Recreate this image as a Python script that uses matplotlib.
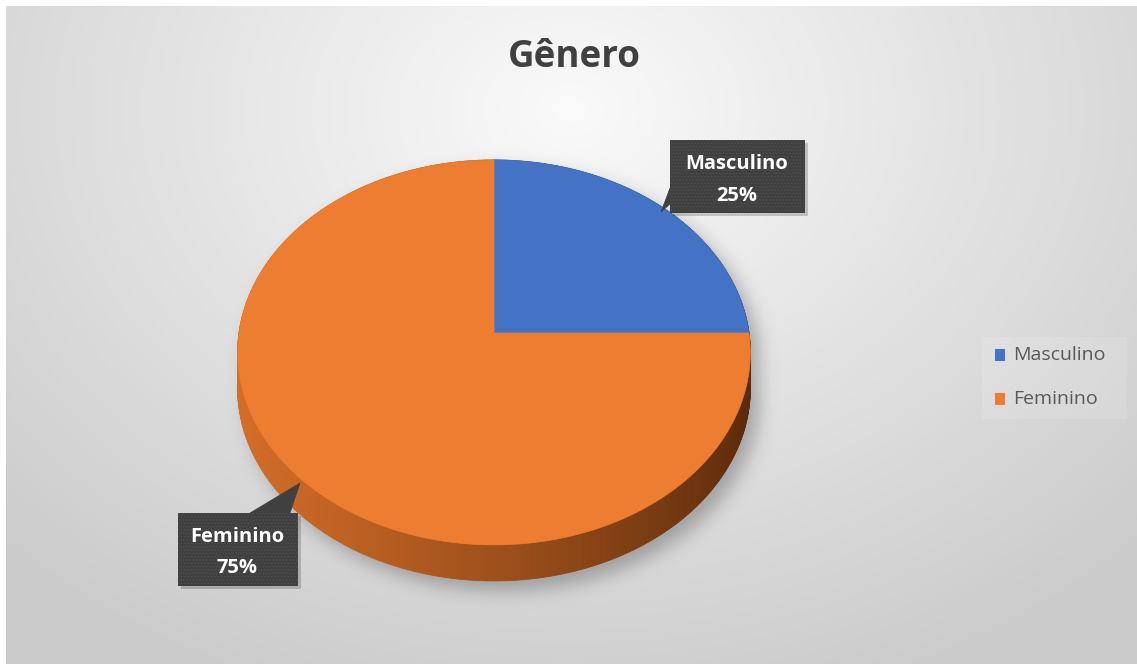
import numpy as np
import matplotlib
matplotlib.use('Agg')
import matplotlib.pyplot as plt
from matplotlib.patches import Polygon, Rectangle
from matplotlib.path import Path

# ---- data ----
categories = ['Masculino', 'Feminino']
values = [25, 75]
colors = ['#4472C4', '#ED7D31']
title = 'Gênero'

plt.rcParams['hatch.linewidth'] = 0.6
FONT = ['Open Sans', 'DejaVu Sans']

W, H = 1137, 664
fig = plt.figure(figsize=(W / 100, H / 100), dpi=100)
ax = fig.add_axes([0, 0, 1, 1])
ax.set_xlim(0, W)
ax.set_ylim(H, 0)
ax.axis('off')

# ---- background radial gradient ----
yy, xx = np.mgrid[0:H, 0:W] + 0.5
r = np.sqrt(((xx - 570) / 720) ** 2 + ((yy - 110) / 560) ** 2)
g = (250 - 42 * np.clip(r, 0, 1.1)) / 255
bg = np.dstack([g, g, g])
bg[:6, :, :] = 1
bg[:, :6, :] = 1
ax.imshow(bg, extent=(0, W, H, 0), zorder=0, interpolation='bilinear')

# ---- 3D pie geometry (perspective projection of a disk) ----
cx, cy, A, B, k, D = 494, 333, 255, 190.5, 0.101, 36


def proj(t):
    X, Z = np.cos(t), np.sin(t)
    w = 1 / (1 + k * Z)
    return cx + A * X * w, cy - B * Z * w


fr = np.array(values, float) / np.sum(values)
bounds = np.pi / 2 - 2 * np.pi * np.concatenate([[0], np.cumsum(fr)])

# soft shadow
tt = np.linspace(0, 2 * np.pi, 400)
px, py = proj(tt)
mask = np.zeros((H, W))
pts = np.column_stack([xx.ravel() - 9, yy.ravel() - 10])
for off in np.linspace(0, D, 7):
    pth = Path(np.column_stack([px, py + off]))
    mask = np.maximum(mask, pth.contains_points(pts).reshape(H, W).astype(float))
sig = 9
kx = np.arange(-3 * sig, 3 * sig + 1)
kern = np.exp(-kx ** 2 / (2 * sig ** 2))
kern /= kern.sum()
mask = np.apply_along_axis(lambda v: np.convolve(v, kern, mode='same'), 1, mask)
mask = np.apply_along_axis(lambda v: np.convolve(v, kern, mode='same'), 0, mask)
sh = np.zeros((H, W, 4))
sh[..., :3] = 0.35
sh[..., 3] = 0.45 * mask
ax.imshow(sh, extent=(0, W, H, 0), zorder=1, interpolation='bilinear')


def slice_index(t):
    a = (np.pi / 2 - t) % (2 * np.pi)
    c = np.cumsum(fr) * 2 * np.pi
    return int(np.searchsorted(c, a))


side_light = {0: ('#3a62a8', '#1f3766'), 1: ('#d46d28', '#5a2a0a')}


def mix(c1, c2, s):
    a = np.array(matplotlib.colors.to_rgb(c1))
    b = np.array(matplotlib.colors.to_rgb(c2))
    return tuple(a * (1 - s) + b * s)


# side wall
n = 720
ts = np.linspace(0, 2 * np.pi, n + 1)
quads = []
for i in range(n):
    t0, t1 = ts[i], ts[i + 1]
    tm = 0.5 * (t0 + t1)
    x0, y0 = proj(t0)
    x1, y1 = proj(t1)
    idx = min(slice_index(tm), len(values) - 1)
    s = (np.cos(tm) + 1) / 2
    col = mix(*side_light[idx], s ** 1.2)
    quads.append((np.sin(tm), [(x0, y0), (x1, y1), (x1, y1 + D), (x0, y0 + D)], col))
quads.sort(key=lambda q: -q[0])
for _, poly, col in quads:
    ax.add_patch(Polygon(poly, closed=True, facecolor=col, edgecolor=col, lw=0.6, zorder=2))

# top faces
for i in range(len(values)):
    ang = np.linspace(bounds[i], bounds[i + 1], 300)
    ex, ey = proj(ang)
    poly = np.column_stack([np.concatenate([[cx], ex]), np.concatenate([[cy], ey])])
    ax.add_patch(Polygon(poly, closed=True, facecolor=colors[i], edgecolor=colors[i], lw=0.5, zorder=3))

# ---- title ----
ax.text(574, 57, title, ha='center', va='center', fontsize=26.5, fontweight='bold',
        color='#404040', family=FONT, zorder=5)


# ---- data labels ----
def label_box(x0, y0, x1, y1, ptr, lines, cxl, ys):
    ax.add_patch(Rectangle((x0 + 3, y0 + 3), x1 - x0, y1 - y0, facecolor='k', alpha=0.18, lw=0, zorder=5))
    ax.add_patch(Polygon(ptr, closed=True, facecolor='#404040', edgecolor='#404040', lw=0.5, zorder=5))
    ax.add_patch(Rectangle((x0, y0), x1 - x0, y1 - y0, facecolor='#404040', edgecolor='#4f4f4f',
                           hatch='.....', lw=0, zorder=6))
    for ln, yv in zip(lines, ys):
        ax.text(cxl, yv, ln, ha='center', va='center', fontsize=14.5, fontweight='bold',
                color='white', family=FONT, zorder=7)


pct = [f'{round(v * 100)}%' for v in fr]
label_box(670, 140, 805, 213, [(670, 188), (670, 204), (661, 212)],
          [categories[0], pct[0]], 737, [164, 196])
label_box(178, 513, 298, 586, [(250, 513), (290, 513), (300, 483)],
          [categories[1], pct[1]], 237, [537, 568])

# ---- legend ----
ax.add_patch(Rectangle((982, 337), 145, 82, facecolor='white', alpha=0.12, lw=0, zorder=4))
for i, (cat, col) in enumerate(zip(categories, colors)):
    yv = 355 + 44 * i
    ax.add_patch(Rectangle((995, yv - 6), 10, 12, facecolor=col, lw=0, zorder=5))
    ax.text(1013, yv, cat, ha='left', va='center', fontsize=14, color='#595959',
            family=FONT, zorder=5)

fig.savefig('out.png', dpi=100)
